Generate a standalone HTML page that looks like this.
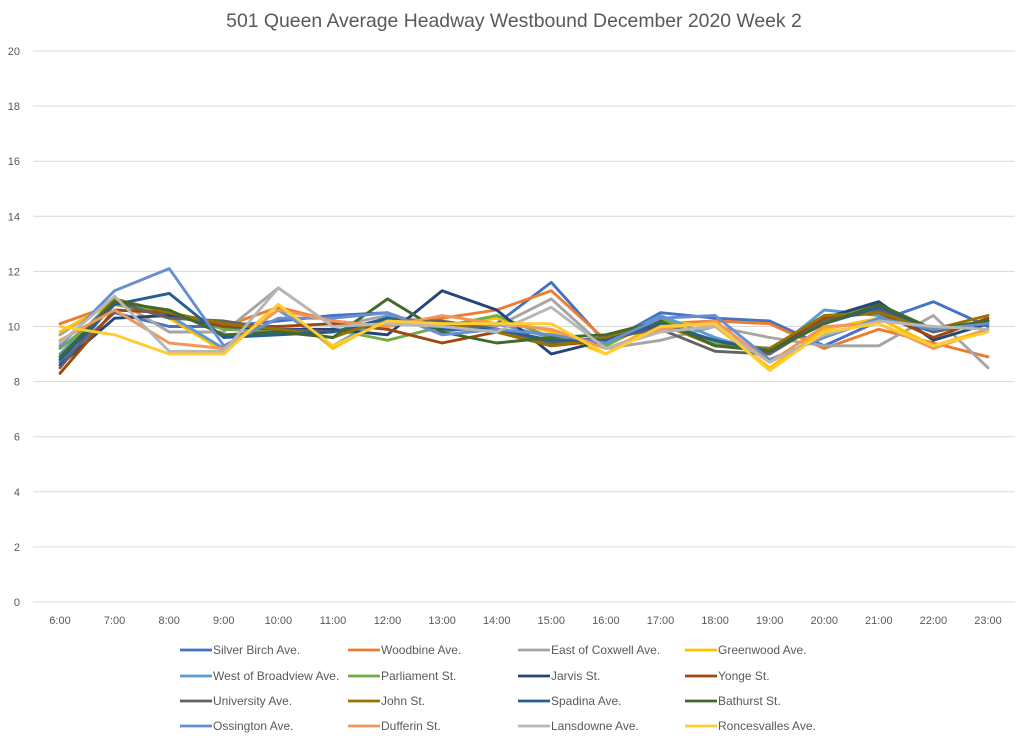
<!DOCTYPE html>
<html><head><meta charset="utf-8"><style>
html,body{margin:0;padding:0;background:#fff;}
svg{display:block;font-family:"Liberation Sans",sans-serif;}
</style></head><body>
<svg id="chart" width="1024" height="738" viewBox="0 0 1024 738" xmlns="http://www.w3.org/2000/svg">
<rect width="1024" height="738" fill="#fff"/>
<text x="514" y="27" text-anchor="middle" font-size="19.4" fill="#595959">501 Queen  Average Headway Westbound December 2020 Week 2</text>
<g id="grid"></g><g id="ylabels"></g><g id="xlabels"></g><g id="series"></g><g id="legend"></g>
</svg>
<script>
const categories=["6:00","7:00","8:00","9:00","10:00","11:00","12:00","13:00","14:00","15:00","16:00","17:00","18:00","19:00","20:00","21:00","22:00","23:00"];
const yTicks=[0,2,4,6,8,10,12,14,16,18,20];
const seriesNames=["Silver Birch Ave.","Woodbine Ave.","East of Coxwell Ave.","Greenwood Ave.","West of Broadview Ave.","Parliament St.","Jarvis St.","Yonge St.","University Ave.","John St.","Spadina Ave.","Bathurst St.","Ossington Ave.","Dufferin St.","Lansdowne Ave.","Roncesvalles Ave."];
const seriesColors=["#4472C4","#ED7D31","#A5A5A5","#FFC000","#5B9BD5","#70AD47","#264478","#9E480E","#636363","#997300","#255E91","#43682B","#698ED0","#F1975A","#B7B7B7","#FFCD33"];
const silverBirch=[8.7,10.5,10.0,10.0,10.2,10.4,10.5,9.8,10.1,11.6,9.4,10.5,10.3,10.2,9.3,10.2,10.9,10.0];
const woodbine=[10.1,10.8,10.4,10.0,10.7,10.2,10.0,10.3,10.6,11.3,9.5,10.1,10.2,10.1,9.2,9.9,9.4,8.9];
const eastCoxwell=[9.7,11.0,9.8,9.8,11.4,10.0,10.4,10.1,10.0,11.0,9.2,9.5,10.0,9.6,9.3,9.3,10.4,8.5];
const greenwood=[9.8,10.9,10.3,9.1,10.8,9.2,10.3,10.0,10.3,9.8,9.0,10.2,10.0,8.5,9.9,10.3,9.3,9.9];
const westBroadview=[9.0,11.0,10.4,9.2,10.6,9.3,10.4,9.8,10.1,9.6,9.4,10.4,9.6,9.0,10.6,10.4,9.8,10.2];
const parliament=[9.2,10.8,10.5,9.9,9.8,9.9,9.5,10.0,10.4,9.6,9.3,10.3,9.4,9.2,10.2,10.8,9.9,10.2];
const jarvis=[8.6,10.3,10.4,10.0,9.9,9.9,9.7,11.3,10.6,9.0,9.5,10.2,9.3,9.2,10.3,10.9,9.5,10.1];
const yonge=[8.3,10.6,10.5,10.0,10.0,10.1,9.9,9.4,9.8,9.3,9.5,10.0,9.5,9.0,10.3,10.5,9.6,10.3];
const university=[8.5,10.9,10.3,10.2,9.9,9.8,10.2,10.2,9.9,9.4,9.6,9.9,9.1,9.0,10.2,10.6,9.8,10.2];
const john=[8.8,11.0,10.5,10.1,9.9,9.6,10.3,10.1,9.8,9.3,9.6,10.1,9.3,9.2,10.4,10.5,9.9,10.4];
const spadina=[8.8,10.8,11.2,9.6,9.7,9.8,10.3,9.9,9.9,9.5,9.5,10.1,9.5,9.1,10.1,10.7,9.9,10.2];
const bathurst=[8.9,10.9,10.6,9.7,9.8,9.6,11.0,9.8,9.4,9.6,9.7,10.2,9.3,9.1,10.1,10.8,9.9,10.2];
const ossington=[9.3,11.3,12.1,9.3,10.3,10.3,10.5,9.7,9.9,9.7,9.4,10.3,10.4,8.8,9.6,10.3,9.9,10.1];
const dufferin=[9.5,10.6,9.4,9.2,10.6,10.2,10.0,10.4,10.1,9.9,9.2,9.9,10.2,8.7,10.0,10.1,9.2,9.9];
const lansdowne=[9.4,11.1,9.1,9.1,11.4,10.0,10.1,10.0,9.8,10.7,9.2,9.8,10.0,8.7,9.7,10.2,10.0,9.9];
const roncesvalles=[10.0,9.7,9.0,9.0,10.8,9.3,10.2,10.1,10.1,10.1,9.0,10.0,10.1,8.4,9.8,10.1,9.3,9.8];
const seriesValues=[silverBirch,woodbine,eastCoxwell,greenwood,westBroadview,parliament,jarvis,yonge,university,john,spadina,bathurst,ossington,dufferin,lansdowne,roncesvalles];

const NS="http://www.w3.org/2000/svg";
const plotL=33,plotR=1015,yTop=51,yBot=602,yMax=20;
const x0=60,x1=988;
function xScale(i){return x0+i*(x1-x0)/(categories.length-1);}
function yScale(v){return yBot-(v/yMax)*(yBot-yTop);}
function mk(tag,attrs,parent){const e=document.createElementNS(NS,tag);for(const k in attrs)e.setAttribute(k,attrs[k]);parent.appendChild(e);return e;}
const grid=document.getElementById('grid'),yl=document.getElementById('ylabels'),xl=document.getElementById('xlabels'),sg=document.getElementById('series'),lg=document.getElementById('legend');
yTicks.forEach(t=>{
  const l=mk('line',{x1:plotL,x2:plotR,y1:yScale(t),y2:yScale(t),stroke:'#d9d9d9','stroke-width':1},grid);
  
  
  const tx=mk('text',{x:20,y:yScale(t)+4,'text-anchor':'end','font-size':11,fill:'#595959'},yl);
  tx.textContent=t;
  
  
});
categories.forEach((c,i)=>{
  const tx=mk('text',{x:xScale(i),y:624,'text-anchor':'middle','font-size':11,fill:'#595959'},xl);
  tx.textContent=c;
  
  
});
seriesValues.forEach((vals,s)=>{
  const pts=vals.map((v,i)=>xScale(i).toFixed(1)+','+yScale(v).toFixed(1)).join(' ');
  const pl=mk('polyline',{points:pts,fill:'none',stroke:seriesColors[s],'stroke-width':2.9,'stroke-linejoin':'round','stroke-linecap':'round'},sg);
  
  
});
const colX=[180,348,518,685],rowY=[650,676,701,726];
seriesNames.forEach((n,s)=>{
  const cx=colX[s%4],cy=rowY[Math.floor(s/4)];
  const g=mk('g',{},lg);
  
  
  mk('line',{x1:cx,x2:cx+32,y1:cy,y2:cy,stroke:seriesColors[s],'stroke-width':2.8},g);
  const tx=mk('text',{x:cx+33,y:cy+4,'font-size':12,fill:'#595959'},g);
  tx.textContent=n;
});
</script>
</body></html>
